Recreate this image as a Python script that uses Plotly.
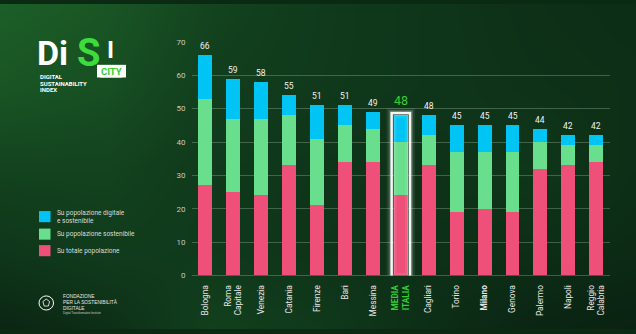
import plotly.graph_objects as go

# ---------------- data ----------------
categories = ["Bologna", "Roma Capitale", "Venezia", "Catania", "Firenze", "Bari", "Messina",
              "MEDIA ITALIA", "Cagliari", "Torino", "Milano", "Genova", "Palermo", "Napoli",
              "Reggio Calabria"]
tick_labels = ["Bologna", "Roma<br>Capitale", "Venezia", "Catania", "Firenze", "Bari", "Messina",
               "<span style='color:#35cf35'><b>MEDIA<br>ITALIA</b></span>", "Cagliari", "Torino",
               "<b>Milano</b>", "Genova", "Palermo", "Napoli", "Reggio<br>Calabria"]
su_totale = [27, 25, 24, 33, 21, 34, 34, 24, 33, 19, 20, 19, 32, 33, 34]
su_sostenibile = [26, 22, 23, 15, 20, 11, 10, 16, 9, 18, 17, 18, 8, 6, 5]
su_digitale = [13, 12, 11, 6, 10, 6, 5, 8, 6, 8, 8, 8, 4, 3, 3]
total_labels = [66, 59, 58, 55, 51, 51, 49, 48, 48, 45, 45, 45, 44, 42, 42]
highlight = "MEDIA ITALIA"

series_names = ["Su totale popolazione", "Su popolazione sostenibile",
                "Su popolazione digitale<br>e sostenibile"]

# background brightness grid (rows bottom -> top)
bg_grid = [
    [0.22, 0.32, 0.52, 0.45, 0.32, 0.22, 0.18],
    [0.42, 0.48, 0.45, 0.38, 0.35, 0.32, 0.28],
    [0.55, 0.55, 0.45, 0.40, 0.36, 0.42, 0.32],
    [0.72, 0.66, 0.50, 0.45, 0.40, 0.36, 0.33],
    [0.80, 0.72, 0.55, 0.46, 0.40, 0.34, 0.30],
]

PINK = "#EF5079"
GREEN = "#69DE8C"
CYAN = "#00C5F4"
HL_GREEN = "#35cf35"
colors = [PINK, GREEN, CYAN]

W, H = 636, 334
def px(x):
    return x / W
def py(y):
    return 1 - y / H

fig = go.Figure()

# background gradient on its own full-paper axes
fig.add_trace(go.Heatmap(
    z=bg_grid, x=list(range(7)), y=list(range(5)), zsmooth="best", showscale=False,
    zmin=0, zmax=1, hoverinfo="skip",
    colorscale=[[0, "rgb(5,18,11)"], [0.5, "rgb(17,62,29)"], [1, "rgb(36,116,46)"]],
    xaxis="x", yaxis="y"))

for name, vals, col in zip(series_names, [su_totale, su_sostenibile, su_digitale], colors):
    fig.add_trace(go.Bar(x=categories, y=vals, name=name, marker=dict(color=col, line=dict(width=0)),
                         xaxis="x2", yaxis="y2", showlegend=False))

stack_tops = [a + b + c for a, b, c in zip(su_totale, su_sostenibile, su_digitale)]
for cat, top, lab in zip(categories, stack_tops, total_labels):
    hl = cat == highlight
    fig.add_annotation(x=cat, y=top, xref="x2", yref="y2", text=str(lab), showarrow=False,
                       xanchor="center", yanchor="bottom", yshift=2 if not hl else 5,
                       font=dict(family="Roboto", size=12.5 if hl else 8.5,
                                 color=HL_GREEN if hl else "#f2f2f2"))

# glow frame around highlighted bar
hi = categories.index(highlight)
htop = stack_tops[hi]
for w, c in [(10, "rgba(255,255,255,0.08)"), (6, "rgba(255,255,255,0.18)"),
             (2.5, "rgba(255,255,255,0.95)")]:
    fig.add_shape(type="rect", xref="x2", yref="y2", x0=hi - 0.33, x1=hi + 0.33, y0=-0.7, y1=htop + 0.7,
                  line=dict(color=c, width=w), fillcolor="rgba(0,0,0,0)", layer="above")

# legend (manual)
leg_items = [(CYAN, series_names[2], 218.5), (GREEN, series_names[1], 236.5), (PINK, series_names[0], 253.5)]
for col, txt, yc in leg_items:
    fig.add_shape(type="rect", xref="paper", yref="paper", x0=px(39), x1=px(50.5),
                  y0=py(yc + 5.7), y1=py(yc - 5.7), fillcolor=col, line=dict(width=0))
    fig.add_annotation(xref="paper", yref="paper", x=px(55), y=py(yc), text=txt, showarrow=False,
                       xanchor="left", yanchor="middle", align="left",
                       font=dict(family="Roboto", size=6.5, color="#dcdcdc"))

# DiSI logo (letters spaced out like the original)
fig.add_shape(type="rect", xref="paper", yref="paper", x0=px(97), x1=px(126), y0=py(75.5), y1=py(62.5),
              fillcolor="white", line=dict(width=0), layer="above")
for ch, xc, yc, col, sz in [("D", 47.5, 50.5, "white", 34), ("i", 63.5, 50.5, "white", 34),
                            ("S", 88, 50.5, "#3ddc3d", 38), ("I", 110.5, 47.0, "white", 24)]:
    fig.add_annotation(xref="paper", yref="paper", x=px(xc), y=py(yc), showarrow=False,
                       xanchor="center", yanchor="middle", text="<b>" + ch + "</b>",
                       font=dict(family="Roboto", size=sz, color=col))
fig.add_annotation(xref="paper", yref="paper", x=px(111.5), y=py(69.2), text="<b>CITY</b>", showarrow=False,
                   xanchor="center", yanchor="middle", bgcolor="white", borderpad=0,
                   font=dict(family="Roboto", size=9.5, color="#2fcf2f"))
for t, yc in [("DIGITAL", 74.3), ("SUSTAINABILITY", 81.2), ("INDEX", 88.1)]:
    fig.add_annotation(xref="paper", yref="paper", x=px(38.5), y=py(yc), text="<b>" + t + "</b>",
                       showarrow=False, xanchor="left", yanchor="middle", borderpad=0,
                       font=dict(family="Roboto", size=6.0, color="white"))

# footer logo
fig.add_shape(type="circle", xref="paper", yref="paper", x0=px(39), x1=px(53.5), y0=py(314.5), y1=py(300),
              line=dict(color="white", width=1))
fig.add_shape(type="path", xref="paper", yref="paper",
              path="M {a},{b} L {c},{d} L {e},{f} L {g},{f} L {h},{d} Z".format(
                  a=px(46.25), b=py(303.2), c=px(49.6), d=py(305.8), e=px(48.4), f=py(310.4),
                  g=px(44.1), h=px(42.9)),
              line=dict(color="white", width=0.8))
fig.add_annotation(xref="paper", yref="paper", x=px(60.5), y=py(306.5),
                   text="FONDAZIONE<br>PER LA SOSTENIBILITÀ<br>DIGITALE", showarrow=False,
                   xanchor="left", yanchor="middle", align="left",
                   font=dict(family="Liberation Sans", size=4.8, color="#e8e8e8"))
fig.add_annotation(xref="paper", yref="paper", x=px(60.5), y=py(317.3),
                   text="Digital Transformation Institute", showarrow=False,
                   xanchor="left", yanchor="middle",
                   font=dict(family="Liberation Sans", size=2.8, color="#d0d0d0"))

fig.update_layout(
    width=W, height=H, margin=dict(l=0, r=0, t=0, b=0),
    paper_bgcolor="#0b2a14", plot_bgcolor="rgba(0,0,0,0)",
    barmode="stack", bargap=0.5, showlegend=False,
    xaxis=dict(domain=[0, 1], range=[0, 6], visible=False, fixedrange=True),
    yaxis=dict(domain=[0, 1], range=[0, 4], visible=False, fixedrange=True),
    xaxis2=dict(domain=[px(191.5), px(610.2)], anchor="y2", type="category",
                tickvals=categories, ticktext=tick_labels, tickangle=-90,
                tickfont=dict(family="Roboto", size=8.3, color="#e6e6e6"),
                showgrid=False, showline=False, ticks="", ticklabelstandoff=7),
    yaxis2=dict(domain=[py(279), py(39)], anchor="x2", range=[0, 70], dtick=10,
                showgrid=True, gridcolor="rgba(200,220,200,0.28)", gridwidth=1,
                zeroline=True, zerolinecolor="rgba(200,220,200,0.28)", zerolinewidth=1,
                tickfont=dict(family="Roboto", size=8, color="#c8c8c8"),
                ticks="", ticklabelstandoff=5),
)

fig.write_html("out.html")
